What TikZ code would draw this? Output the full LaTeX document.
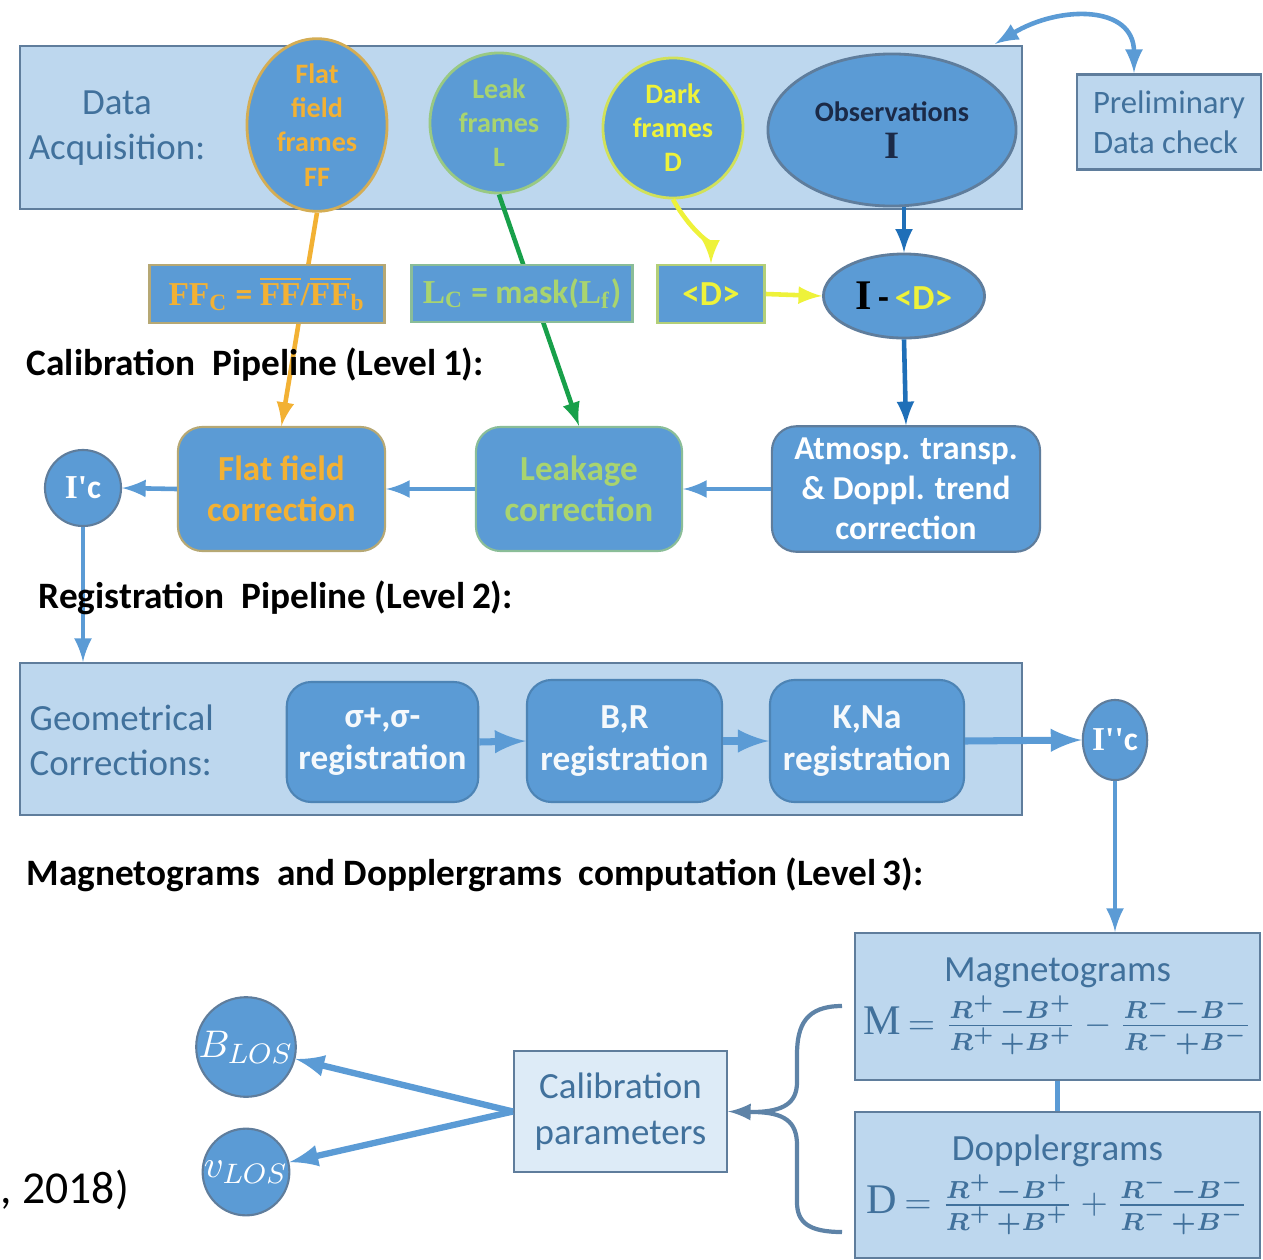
\documentclass[tikz,border=0pt]{standalone}
\usepackage{fontspec}
\setmainfont{Carlito}
\newfontfamily\serif{Liberation Serif}
\usepackage{amsmath}
\usepackage{tikz}
\usetikzlibrary{arrows,shapes}
\usepackage{xcolor}

\definecolor{bleu}{HTML}{5B9BD5}
\definecolor{clair}{HTML}{BDD7EE}
\definecolor{pale}{HTML}{DDEBF7}
\definecolor{bord}{HTML}{5F7D9C}
\definecolor{texte}{HTML}{41719C}
\definecolor{ffor}{HTML}{F2B134}
\definecolor{vert}{HTML}{A9D46F}
\definecolor{vertf}{HTML}{18A04A}
\definecolor{jaune}{HTML}{EEF23A}
\definecolor{fonce}{HTML}{1F6FB8}
\definecolor{nuit}{HTML}{1B2A47}
\definecolor{formule}{HTML}{2F5F8F}

\begin{document}
\begin{tikzpicture}[x=0.01cm,y=0.01cm]
        \tikzset{arr/.style={->,>=latex,line width=1.3pt,draw=bleu}}
        \tikzset{boite/.style={rectangle,draw=bord,fill=clair,line width=0.6pt}}
        \tikzset{pave/.style={rectangle,rounded corners=7pt,fill=bleu,draw=bleu!85!black,line width=0.6pt,align=center,font=\fontsize{9.5}{11.4}\selectfont\bfseries,text=white!94!bleu}}
        \tikzset{rond/.style={ellipse,fill=bleu,line width=0.8pt,inner sep=0pt,align=center,font=\fontsize{8}{9.7}\selectfont\bfseries}}
        \tikzset{carre/.style={rectangle,fill=bleu,line width=0.8pt,font=\fontsize{9.5}{12}\selectfont\bfseries}}
        \tikzset{titre/.style={anchor=west,inner sep=0pt,font=\fontsize{10.6}{12}\selectfont\bfseries}}
        \tikzset{eq/.style={rectangle,draw=bord,fill=clair,line width=0.6pt,inner sep=1pt,text=texte,align=center,minimum width=4.05cm,font=\fontsize{10.5}{13}\selectfont}}
        \useasboundingbox (0,0) rectangle (1263,-1260);

        % Level 0 : data acquisition
        \node[boite,minimum width=10.02cm,minimum height=1.63cm] (da) at (521,-127.5) {};
        \node[text=texte,align=center,font=\fontsize{10.5}{13}\selectfont] (datxt) at (117,-128) {Data\\Acquisition:};
        \node[rond,draw=ffor!80!bleu,text=ffor,minimum width=1.40cm,minimum height=1.64cm] (ff) at (317,-125) {Flat\\field\\frames\\FF};
        \node[rond,draw=vert!80!bleu,text=vert,minimum width=1.38cm,minimum height=1.40cm] (leak) at (499,-123) {Leak\\frames\\L};
        \node[rond,draw=jaune!80!bleu,text=jaune,minimum width=1.40cm,minimum height=1.40cm] (dark) at (673,-128) {Dark\\frames\\D};
        \node[rond,draw=bord,text=nuit,minimum width=2.48cm,minimum height=1.52cm] (obs) at (892,-130) {Observations\\[1pt]{\serif\fontsize{11}{11}\selectfont I}};
        \node[boite,text=texte,align=left,minimum width=1.84cm,minimum height=0.95cm,font=\fontsize{9.3}{11.4}\selectfont] (prelim) at (1169,-122) {Preliminary\\Data check};
        \coordinate (datop) at (995,-44);
        \coordinate (pretop) at (1134,-73);
        \draw[<->,>=latex,line width=1.3pt,draw=bleu] (datop) .. controls (1060,-5) and (1134,-5) .. (pretop);

        % Level 1 : calibration
        \node[pave,draw=bord,text=white,minimum width=2.68cm,minimum height=1.24cm] (atm) at (906,-489) {Atmosp. transp.\\\& Doppl. trend\\correction};
        \node[pave,draw=vert!60!bleu,text=vert,minimum width=2.06cm,minimum height=1.24cm,font=\fontsize{10}{11.6}\selectfont\bfseries] (leakc) at (579,-489) {Leakage\\correction};
        \node[pave,draw=ffor!60!bleu,text=ffor,minimum width=2.07cm,minimum height=1.24cm,font=\fontsize{10}{11.6}\selectfont\bfseries] (flatc) at (281.5,-489) {Flat field\\correction};
        \node[circle,fill=bleu,draw=bord,line width=0.6pt,inner sep=0pt,minimum size=0.76cm,text=white,font=\fontsize{9.5}{10}\selectfont\bfseries] (ic) at (83,-488) {{\serif I'}c};
        \draw[arr,draw=ffor] (ff.south) -- (flatc.north);
        \draw[arr,draw=vertf] (leak.south) -- (leakc.north);
        \node[carre,draw=ffor!60!bleu,text=ffor,minimum width=2.35cm,minimum height=0.58cm] (ffc) at (267,-294) {{\serif FF\textsubscript{C}} = {\serif$\overline{\text{FF}}$/$\overline{\text{FF}}$\textsubscript{b}}};
        \node[carre,draw=vert!60!bleu,text=vert,minimum width=2.21cm,minimum height=0.57cm] (lc) at (522,-293.5) {{\serif L\textsubscript{C}} = mask({\serif L\textsubscript{f}})};
        \node[carre,draw=jaune!60!bleu,text=jaune,minimum width=1.07cm,minimum height=0.58cm,font=\fontsize{10}{12}\selectfont\bfseries] (dm) at (711,-294) {<D>};
        \node[rond,draw=bord,text=jaune,minimum width=1.61cm,minimum height=0.84cm,font=\fontsize{10}{12}\selectfont\bfseries] (idm) at (904,-296) {{\color{black}\serif\fontsize{12}{12}\selectfont I}{\color{black}\,-\,}<D>};
        \draw[arr,draw=jaune] (dark.south) .. controls (690,-230) and (711,-245) .. (dm.north);
        \draw[arr,draw=jaune] (dm.east) -- (idm.west);
        \draw[arr,draw=fonce] (idm.north |- obs.south) -- (idm.north);
        \draw[arr,draw=fonce] (idm.south) -- (atm.north);
        \draw[arr] (atm.west) -- (leakc.east);
        \draw[arr] (leakc.west) -- (flatc.east);
        \draw[arr] (flatc.west) -- (ic.east);
        \node[titre] (lvl1) at (26,-365) {Calibration\ \ Pipeline (Level\,1):};

        % Level 2 : registration
        \node[boite,minimum width=10.02cm,minimum height=1.52cm] (geo) at (521,-739) {};
        \draw[arr] (ic.south) -- (ic.south |- geo.north);
        \node[titre] (lvl2) at (38,-598) {Registration\ \ Pipeline (Level\,2):};
        \node[anchor=west,inner sep=0pt,text=texte,align=left,font=\fontsize{10.5}{12.8}\selectfont] (geotxt) at (29,-740) {Geometrical\\Corrections:};
        \node[pave,minimum width=1.91cm,minimum height=1.20cm,font=\fontsize{10}{12}\selectfont\bfseries] (sig) at (382.5,-742) {σ+,σ-\\registration};
        \node[pave,minimum width=1.95cm,minimum height=1.22cm,font=\fontsize{10}{12}\selectfont\bfseries] (br) at (624.5,-741) {B,R\\registration};
        \node[pave,minimum width=1.94cm,minimum height=1.22cm,font=\fontsize{10}{12}\selectfont\bfseries] (kna) at (867,-741) {K,Na\\registration};
        \node[ellipse,fill=bleu,draw=bord,line width=0.6pt,inner sep=0pt,minimum width=0.64cm,minimum height=0.80cm,text=white,font=\fontsize{9.5}{10}\selectfont\bfseries] (ipp) at (1115,-740) {{\serif I''}c};
        \draw[arr,line width=2pt] (sig.east) -- (br.west);
        \draw[arr,line width=2pt] (br.east) -- (kna.west);
        \draw[arr,line width=2pt] (kna.east) -- (ipp.west);

        % Level 3 : magnetograms and dopplergrams
        \node[titre] (lvl3) at (26,-875) {Magnetograms\ \ and Dopplergrams\ \ computation (Level\,3):};
        \node[eq,minimum height=1.47cm] (mag) at (1057.5,-1006.5) {Magnetograms\\[2pt]{\serif\fontsize{12}{14}\selectfont M\,}{\fontsize{10}{12}\selectfont$=\genfrac{}{}{}{}{\boldsymbol{R^{+}}\,\boldsymbol{-B^{+}}}{\boldsymbol{R^{+}}\,\boldsymbol{+B^{+}}}-\genfrac{}{}{}{}{\boldsymbol{R^{-}}\,\boldsymbol{-B^{-}}}{\boldsymbol{R^{-}}\,\boldsymbol{+B^{-}}}$}};
        \node[eq,minimum height=1.46cm] (dop) at (1057.5,-1185) {Dopplergrams\\[2pt]{\serif\fontsize{12}{14}\selectfont D\,}{\fontsize{10}{12}\selectfont$=\genfrac{}{}{}{}{\boldsymbol{R^{+}}\,\boldsymbol{-B^{+}}}{\boldsymbol{R^{+}}\,\boldsymbol{+B^{+}}}+\genfrac{}{}{}{}{\boldsymbol{R^{-}}\,\boldsymbol{-B^{-}}}{\boldsymbol{R^{-}}\,\boldsymbol{+B^{-}}}$}};
        \draw[arr] (ipp.south) -- (ipp.south |- mag.north);
        \draw[line width=1.6pt,draw=bleu] (mag.south) -- (dop.north);
        \node[rectangle,draw=bord,fill=pale,line width=0.6pt,text=texte,align=center,minimum width=2.13cm,minimum height=1.21cm,font=\fontsize{10.5}{13}\selectfont] (calp) at (620.5,-1111.5) {Calibration\\parameters};
        \coordinate (pointe) at (752,-1112);
        \draw[line width=1.2pt,draw=bord!80!bleu] (842,-1006) .. controls (806,-1006) and (797,-1025) .. (797,-1055) -- (797,-1082) .. controls (797,-1102) and (785,-1112) .. (pointe) .. controls (785,-1112) and (797,-1122) .. (797,-1145) -- (797,-1202) .. controls (797,-1222) and (808,-1232) .. (842,-1232);
        \draw[arr,line width=1.2pt,draw=bord!80!bleu] (pointe) -- (calp.east);
        \node[circle,fill=bleu,draw=bord,line width=0.6pt,inner sep=0pt,minimum size=0.80cm,text=white,font=\fontsize{11}{12}\selectfont] (blos) at (246,-1047) {$B_{LOS}$};
        \node[circle,fill=bleu,draw=bord,line width=0.6pt,inner sep=0pt,minimum size=0.80cm,text=white,font=\fontsize{11}{12}\selectfont] (vlos) at (246,-1172) {$v_{LOS}$};
        \draw[arr,line width=1.8pt] (calp.west) -- (blos);
        \draw[arr,line width=1.8pt] (calp.west) -- (vlos);
        \node[anchor=west,inner sep=0pt,font=\fontsize{13}{15}\selectfont] (annee) at (0,-1190) {, 2018)};
\end{tikzpicture}
\end{document}
